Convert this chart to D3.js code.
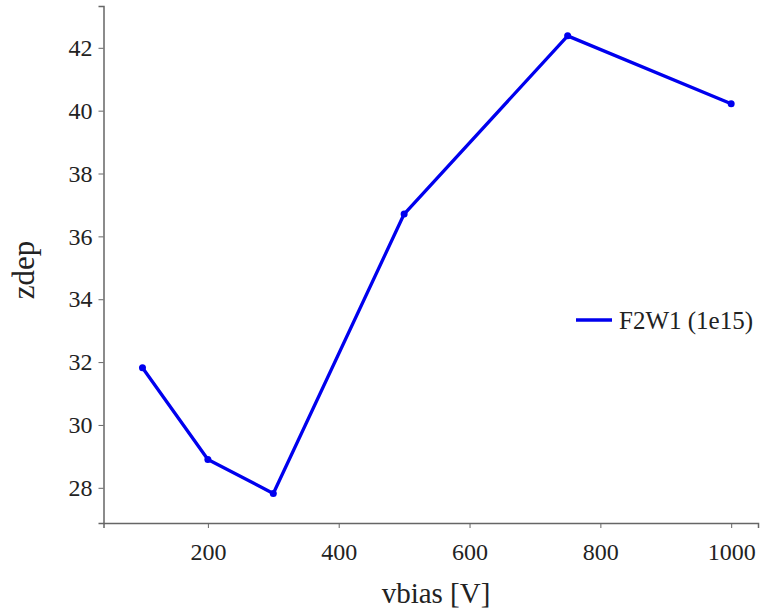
<!DOCTYPE html>
<html>
<head>
<meta charset="utf-8">
<script src="https://cdn.jsdelivr.net/npm/d3@7"></script>
<style>
  html, body { margin: 0; padding: 0; background: #fff; }
  svg { display: block; }
  text { font-family: "Liberation Serif", "DejaVu Serif", serif; fill: #222; }
</style>
</head>
<body>
<svg id="chart" width="760" height="612"></svg>
<script>
// Depletion depth versus bias voltage
const vbias = [100, 200, 300, 500, 750, 1000];
const zdep = [31.82, 28.90, 27.82, 36.71, 42.38, 40.22];
const seriesName = "F2W1 (1e15)";
const xTicks = [200, 400, 600, 800, 1000];
const yTicks = [28, 30, 32, 34, 36, 38, 40, 42];

const W = 760, H = 612;
const m = { left: 103.5, right: 2, top: 6, bottom: 89 };

const svg = d3.select("#chart");

const x = d3.scaleLinear().domain([40.4, 1041]).range([m.left, W - m.right]);
const y = d3.scaleLinear().domain([26.88, 43.33]).range([H - m.bottom, m.top]);

const axisColor = "#666";
const tickFont = "24px";

// x axis
const gx = svg.append("g")
  .attr("transform", `translate(0,${H - m.bottom})`)
  .call(d3.axisBottom(x).tickValues(xTicks).tickSize(5).tickPadding(15).tickFormat(d3.format("d")));
gx.select(".domain").attr("stroke", axisColor).attr("stroke-width", 1.5);
gx.selectAll(".tick line").attr("stroke", axisColor).attr("stroke-width", 1);
gx.selectAll(".tick text")
  .attr("font-family", null).attr("font-size", null)
  .style("font-size", tickFont).attr("fill", "#222");

// y axis
const gy = svg.append("g")
  .attr("transform", `translate(${m.left},0)`)
  .call(d3.axisLeft(y).tickValues(yTicks).tickSize(5).tickPadding(6).tickFormat(d3.format("d")));
gy.select(".domain").attr("stroke", axisColor).attr("stroke-width", 1.5);
gy.selectAll(".tick line").attr("stroke", axisColor).attr("stroke-width", 1);
gy.selectAll(".tick text")
  .style("font-size", tickFont).attr("fill", "#222");

[gx, gy].forEach(g => g.attr("font-family", null).attr("font-size", null));

// axis titles
svg.append("text")
  .attr("x", 436).attr("y", 603)
  .attr("text-anchor", "middle")
  .style("font-size", "29px")
  .text("vbias [V]");

svg.append("text")
  .attr("transform", `translate(34,270) rotate(-90)`)
  .attr("text-anchor", "middle")
  .style("font-size", "31px")
  .text("zdep");

// series
const pts = vbias.map((v, i) => [v, zdep[i]]);
const line = d3.line().x(d => x(d[0])).y(d => y(d[1]));
const blue = "#0000ee";

svg.append("path")
  .datum(pts)
  .attr("fill", "none")
  .attr("stroke", blue)
  .attr("stroke-width", 3.3)
  .attr("stroke-linejoin", "round")
  .attr("d", line);

svg.selectAll("circle.pt")
  .data(pts)
  .enter().append("circle")
  .attr("class", "pt")
  .attr("cx", d => x(d[0]))
  .attr("cy", d => y(d[1]))
  .attr("r", 3.5)
  .attr("fill", blue);

// legend
const lg = svg.append("g").attr("transform", "translate(576,320)");
lg.append("line")
  .attr("x1", 0).attr("x2", 36).attr("y1", 0).attr("y2", 0)
  .attr("stroke", blue).attr("stroke-width", 3.3);
lg.append("text")
  .attr("x", 43).attr("y", 0)
  .attr("dy", "0.35em")
  .style("font-size", "25px")
  .text(seriesName);
</script>
</body>
</html>
